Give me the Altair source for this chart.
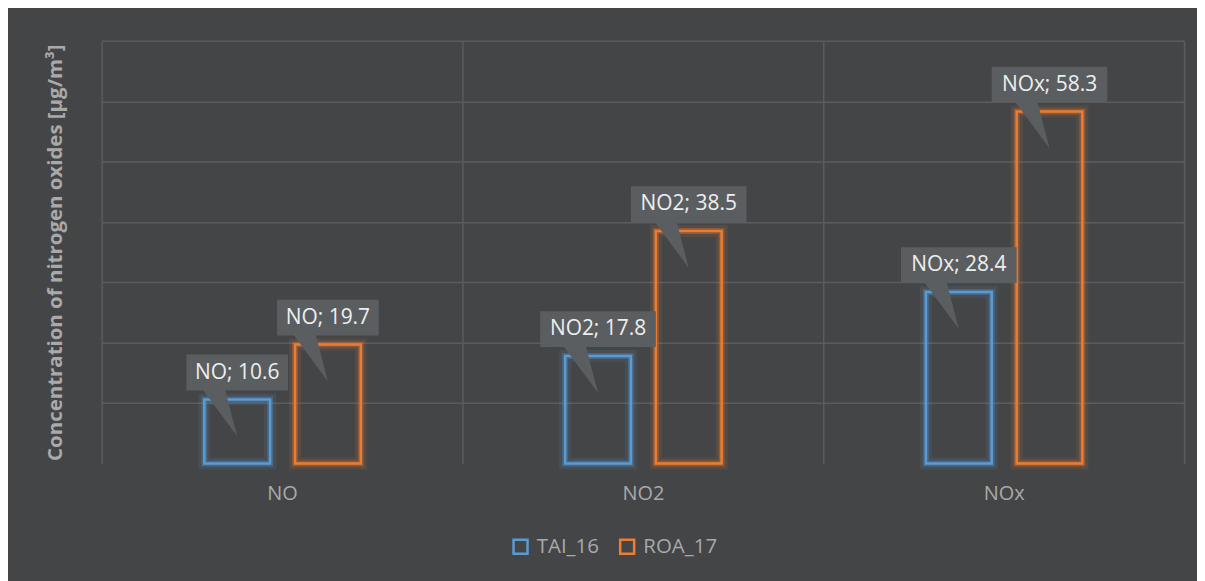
import altair as alt
import pandas as pd

pollutants = ["NO", "NO2", "NOx"]
series = ["TAI_16", "ROA_17"]
tai_16 = [10.6, 17.8, 28.4]
roa_17 = [19.7, 38.5, 58.3]
grid_values = [10, 20, 30, 40, 50, 60, 70]

rows = []
for i, p in enumerate(pollutants):
    rows.append({"pollutant": p, "series": series[0], "value": tai_16[i]})
    rows.append({"pollutant": p, "series": series[1], "value": roa_17[i]})
df = pd.DataFrame(rows)
df["label"] = df["pollutant"] + "; " + df["value"].map(lambda v: f"{v:.1f}")

BG = "#444547"
GRID = "#5a5c5f"
BOX = "#5b5e61"
TXT = "#a9a9a9"
colors = ["#5B9BD5", "#ED7D31"]


def callout(w):
    h = w / 2
    return f"M{-h},-45 H{h} V-9 H-12 L0,37 L-34,-9 H{-h} Z"


callout_paths = [callout(102), callout(116), callout(116)]

x = alt.X(
    "pollutant:N",
    sort=pollutants,
    scale=alt.Scale(paddingInner=0, paddingOuter=0),
    axis=alt.Axis(
        title=None, labelAngle=0, tickBand="extent", grid=True, ticks=False,
        domain=False, labelPadding=20, labelFontSize=20, labelColor=TXT,
        labelFont="Open Sans", gridColor=GRID, gridWidth=1.5,
    ),
)
xo = alt.XOffset("series:N", sort=series,
                 scale=alt.Scale(paddingInner=0.275, paddingOuter=0, range=[103, 260]))
y = alt.Y(
    "value:Q",
    scale=alt.Scale(domain=[0, 70]),
    axis=alt.Axis(
        values=grid_values, labels=False, ticks=False, domain=False,
        gridColor=GRID, gridWidth=1.5,
        title="Concentration of nitrogen oxides [µg/m³]",
        titleFont="Open Sans", titleFontSize=20.5, titleFontWeight="bold",
        titleColor=TXT, titleX=-46, titleY=212, titleAngle=-90,
        titleAlign="center", titleBaseline="middle",
    ),
)
stroke_scale = alt.Scale(domain=series, range=colors)
legend = alt.Legend(
    title=None, orient="none", direction="horizontal",
    legendX=410, legendY=497, padding=0, symbolType="square",
    symbolSize=196, symbolStrokeWidth=2.5, symbolFillColor=BG,
    labelFontSize=20.5, labelColor=TXT, labelFont="Open Sans",
    labelOffset=6, columnPadding=16,
)
stroke = alt.Stroke("series:N", scale=stroke_scale, sort=series, legend=legend)

base = alt.Chart(df)

glow1 = base.mark_bar(fill="transparent", strokeWidth=12, strokeOpacity=0.12).encode(
    x=x, xOffset=xo, y=y, stroke=stroke
)
glow2 = base.mark_bar(fill="transparent", strokeWidth=6, strokeOpacity=0.3).encode(
    x=x, xOffset=xo, y=y, stroke=stroke
)
bars = base.mark_bar(fill="transparent", strokeWidth=2.5).encode(
    x=x, xOffset=xo, y=y, stroke=stroke
)
boxes = base.mark_point(filled=True, size=4, fill=BOX, strokeWidth=0, opacity=1).encode(
    x=x, xOffset=xo, y=y,
    shape=alt.Shape("pollutant:N", scale=alt.Scale(domain=pollutants, range=callout_paths), legend=None),
)
texts = base.mark_text(dy=-27, fontSize=21, font="Open Sans", color="#eeeeee",
                       baseline="middle", align="center").encode(
    x=x, xOffset=xo, y=y, text="label:N"
)

chart = (
    alt.layer(bars, glow1, glow2, boxes, texts)
    .properties(
        width=1086, height=424,
        autosize=alt.AutoSizeParams(type="none"),
        padding={"left": 94, "top": 32, "right": 13, "bottom": 119},
        background=BG,
    )
    .configure_view(stroke=None)
)

chart.save("out.html", embed_options={"renderer": "svg", "actions": False})
